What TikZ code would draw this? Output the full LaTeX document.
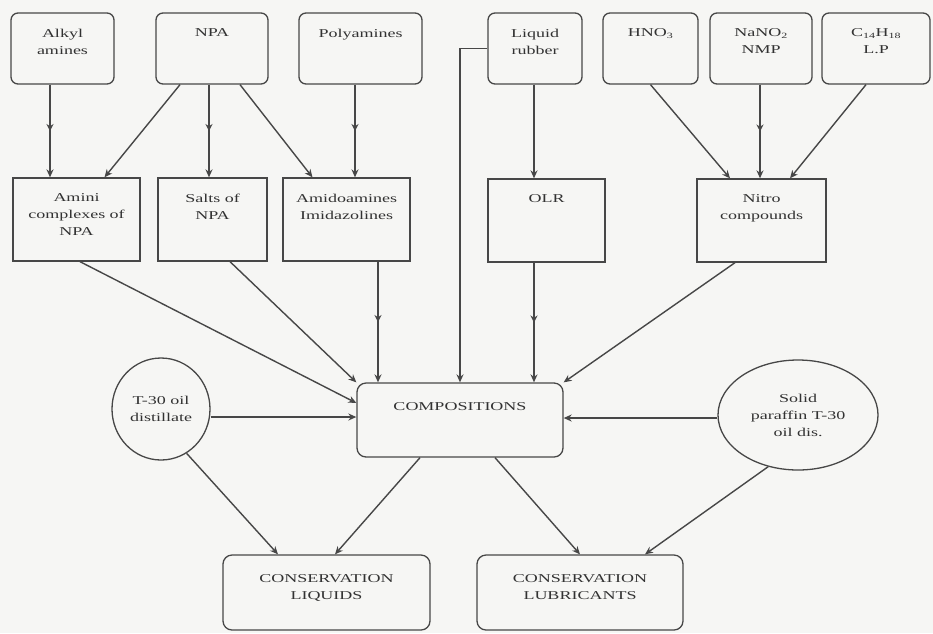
\documentclass[tikz,border=0pt]{standalone}
\usepackage{fontspec}
\setmainfont{Liberation Serif}[FakeStretch=1.5]
\usetikzlibrary{shapes.geometric,arrows.meta,decorations.markings}
\definecolor{ink}{HTML}{474747}
\definecolor{paper}{HTML}{F6F6F4}

\begin{document}
\begin{tikzpicture}[x=1pt,y=-1pt]
\tikzset{
  every node/.style={font=\fontsize{12}{17}\selectfont, text=ink!70!black},
  textgap/.store in=\textgap, textgap=16pt,
  box/.style 2 args={draw=ink, line width=1.3pt, inner sep=0pt,
    execute at begin node={\begin{minipage}[c][#2][t]{#1}\centering\vspace*{\textgap}},
    execute at end node={\end{minipage}}},
  src/.style 2 args={box={#1}{#2}, rounded corners=7pt},
  oval/.style={ellipse, draw=ink, line width=1.3pt, align=center, inner sep=0pt},
  arr/.style={draw=ink, line width=1.4pt, -{Stealth[length=8pt,width=7pt]}},
  dbl/.style={arr, postaction={decorate, decoration={markings,
    mark=at position 0.5 with {\arrow{Stealth[length=7pt,width=7pt]}}}}}
}
\fill[paper] (0,0) rectangle (933,633);
\useasboundingbox (0,0) rectangle (933,633);

\node[src={103pt}{71pt}] (alkyl) at (62.5,48.5) {Alkyl\\amines};
\node[src={112pt}{71pt}] (npa) at (212,48.5) {NPA};
\node[src={123pt}{71pt}] (poly) at (360.5,48.5) {Polyamines};
\node[src={94pt}{71pt}] (rubber) at (535,48.5) {Liquid\\rubber};
\node[src={95pt}{71pt}] (hno) at (650.5,48.5) {HNO\textsubscript{3}};
\node[src={102pt}{71pt}] (nano) at (761,48.5) {NaNO\textsubscript{2}\\NMP};
\node[src={108pt}{71pt}] (chl) at (876,48.5) {C\textsubscript{14}H\textsubscript{18}\\L.P};

\node[box={127pt}{83pt}] (amini) at (76.5,219.5) {Amini\\complexes of\\NPA};
\node[box={109pt}{83pt}] (salts) at (212.5,219.5) {Salts of\\NPA};
\node[box={127pt}{83pt}] (amido) at (346.5,219.5) {Amidoamines\\Imidazolines};
\node[box={117pt}{83pt}] (olr) at (546.5,220.5) {OLR};
\node[box={129pt}{83pt}] (nitro) at (761.5,220.5) {Nitro\\compounds};

\node[textgap=20pt, src={206pt}{74pt}, rounded corners=9pt] (comp) at (460,420) {COMPOSITIONS};
\node[oval, minimum width=98pt, minimum height=102pt] (tdist) at (161,409) {T-30 oil\\distillate};
\node[oval, minimum width=160pt, minimum height=110pt] (paraf) at (798,415) {Solid\\paraffin T-30\\oil dis.};

\node[textgap=20pt, src={207pt}{75pt}, rounded corners=9pt] (liq) at (326.5,592.5) {CONSERVATION\\LIQUIDS};
\node[textgap=20pt, src={206pt}{75pt}, rounded corners=9pt] (lub) at (580,592.5) {CONSERVATION\\LUBRICANTS};

\draw[dbl] ([xshift=-12.5]alkyl.south) -- ([xshift=-12.5]alkyl.south |- amini.north);
\draw[arr] ([xshift=-32]npa.south) -- ([xshift=28]amini.north);
\draw[dbl] ([xshift=-3]npa.south) -- ([xshift=-3]npa.south |- salts.north);
\draw[arr] ([xshift=28]npa.south) -- ([xshift=-34]amido.north);
\draw[dbl] ([xshift=-5.5]poly.south) -- ([xshift=-5.5]poly.south |- amido.north);
\draw[arr] ([xshift=-1]rubber.south) -- ([xshift=-1]rubber.south |- olr.north);
\draw[arr] (rubber.west) -| (comp.north);
\draw[arr] (hno.south) -- ([xshift=-31.5]nitro.north);
\draw[dbl] ([xshift=-1]nano.south) -- ([xshift=-1]nano.south |- nitro.north);
\draw[arr] ([xshift=-10]chl.south) -- ([xshift=28.5]nitro.north);

\draw[arr] ([xshift=3.5]amini.south) -- ([yshift=17]comp.west);
\draw[arr] ([xshift=17.5]salts.south) -- (comp.north west);
\draw[dbl] ([xshift=31.5]amido.south) -- ([xshift=31.5]amido.south |- comp.north);
\draw[dbl] ([xshift=-12.5]olr.south) -- ([xshift=-12.5]olr.south |- comp.north);
\draw[arr] ([xshift=-26.5]nitro.south) -- (comp.north east);
\draw[arr] ([yshift=-8]tdist.east) -- ([yshift=-8]tdist.east -| comp.west);
\draw[arr] ([yshift=-3]paraf.west) -- ([yshift=-3]paraf.west -| comp.east);

\draw[arr] (tdist.300) -- ([xshift=-48.5]liq.north);
\draw[arr] ([xshift=-40]comp.south) -- ([xshift=8.5]liq.north);
\draw[arr] ([xshift=35]comp.south) -- (lub.north);
\draw[arr] (paraf.240) -- ([xshift=65]lub.north);
\end{tikzpicture}
\end{document}
